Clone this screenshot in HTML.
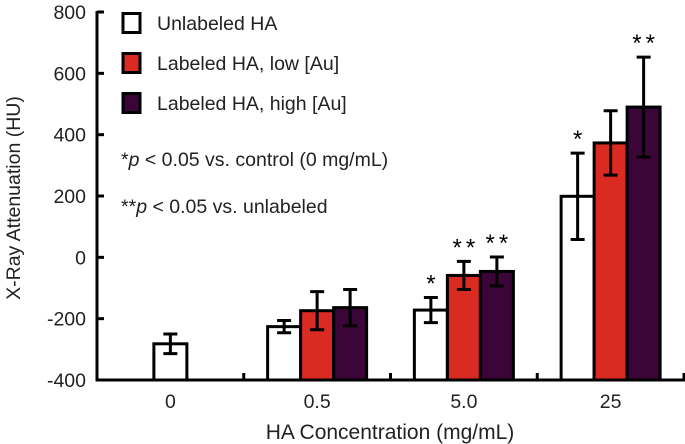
<!DOCTYPE html>
<html><head><meta charset="utf-8"><style>
body{margin:0;background:#fff}
svg{display:block;font-family:"Liberation Sans",Arial,sans-serif}
</style></head><body>
<svg id="chart" width="685" height="444" viewBox="0 0 685 444"></svg>
<script>
const categories=["0","0.5","5.0","25"];
const seriesNames=["Unlabeled HA","Labeled HA, low [Au]","Labeled HA, high [Au]"];
const seriesColors=["#ffffff","#d92b22","#3a0537"];
const unlabeled=[-282,-226,-172,199];
const lowAu=[null,-174,-59,373];
const highAu=[null,-164,-46,490];
const errUnlabeled=[32,20,41,141];
const errLow=[null,62,46,105];
const errHigh=[null,59,47,163];
const starsUnlabeled=["","","*","*"];
const starsLow=["","","**",""];
const starsHigh=["","","**","**"];
const yTicks=[-400,-200,0,200,400,600,800];

const svg=document.getElementById('chart');
const NS='http://www.w3.org/2000/svg';
const X0=97,X1=684,Ytop=12,Ybot=380,ymin=-400,ymax=800;
const y=v=>Ybot-(v-ymin)/(ymax-ymin)*(Ybot-Ytop);
const catW=(X1-X0)/categories.length;
const barW=33;
const xc=i=>X0+catW*(i+0.5);
function el(t,a){const e=document.createElementNS(NS,t);for(const k in a)e.setAttribute(k,a[k]);svg.appendChild(e);return e;}

let ax=el('line',{x1:X0,y1:Ytop-1,x2:X0,y2:Ybot+1.5,stroke:'#000','stroke-width':3});


ax=el('line',{x1:X0-1.5,y1:Ybot,x2:X1+1,y2:Ybot,stroke:'#000','stroke-width':3});


yTicks.forEach(v=>{
 const t=el('line',{x1:X0,y1:y(v),x2:X0+7,y2:y(v),stroke:'#000','stroke-width':3});
 
 
 const l=el('text',{x:86,y:y(v)+7,'text-anchor':'end','font-size':19.5,fill:'#222'});
 l.textContent=v;
 
 
});
categories.forEach((c,i)=>{
 const tx=X0+catW*(i+1);
 const t=el('line',{x1:tx,y1:Ybot,x2:tx,y2:Ybot-7,stroke:'#000','stroke-width':3});
 
 
 const l=el('text',{x:xc(i),y:408,'text-anchor':'middle','font-size':19.5,fill:'#222'});
 l.textContent=c;
 
 
});
const series=[[unlabeled,errUnlabeled,starsUnlabeled],[lowAu,errLow,starsLow],[highAu,errHigh,starsHigh]];
series.forEach((s,si)=>{
 s[0].forEach((v,i)=>{
  if(v===null)return;
  let cx;
  if(i===0)cx=xc(i);else cx=xc(i)+(si-1)*barW;
  const r=el('rect',{x:cx-barW/2,y:y(v),width:barW,height:Ybot-y(v),fill:seriesColors[si],stroke:'#000','stroke-width':3});
  
  
  const e=s[1][i];
  const p=`M${cx},${y(v+e)}V${y(v-e)}M${cx-7},${y(v+e)}H${cx+7}M${cx-7},${y(v-e)}H${cx+7}`;
  const eb=el('path',{d:p,stroke:'#000','stroke-width':3,fill:'none'});
  
  
  if(s[2][i]){
   const st=el('text',{x:cx+2,y:y(v+e)-6,'text-anchor':'middle','font-size':24,fill:'#000','letter-spacing':4});
   st.textContent=s[2][i];
   
   
  }
 });
});
seriesNames.forEach((n,i)=>{
 const ly=12+i*40;
 const r=el('rect',{x:123,y:ly+1.5,width:17,height:19,fill:seriesColors[i],stroke:'#000','stroke-width':3});
 
 
 const t=el('text',{x:157,y:ly+18,'font-size':19.5,fill:'#222'});
 t.textContent=n;
 
 
});
</script>
<svg style="position:absolute;left:0;top:0" width="685" height="444">
<text x="121" y="166" font-size="19.5" fill="#222" font-family="Liberation Sans, sans-serif">*<tspan font-style="italic">p</tspan> &lt; 0.05 vs. control (0 mg/mL)</text>
<text x="121" y="213" font-size="19.5" fill="#222" font-family="Liberation Sans, sans-serif">**<tspan font-style="italic">p</tspan> &lt; 0.05 vs. unlabeled</text>
<text x="390" y="439" text-anchor="middle" font-size="21" fill="#222" font-family="Liberation Sans, sans-serif">HA Concentration (mg/mL)</text>
<text transform="translate(20,198) rotate(-90)" text-anchor="middle" font-size="19.5" fill="#222" font-family="Liberation Sans, sans-serif">X-Ray Attenuation (HU)</text>
</svg>
</body></html>
